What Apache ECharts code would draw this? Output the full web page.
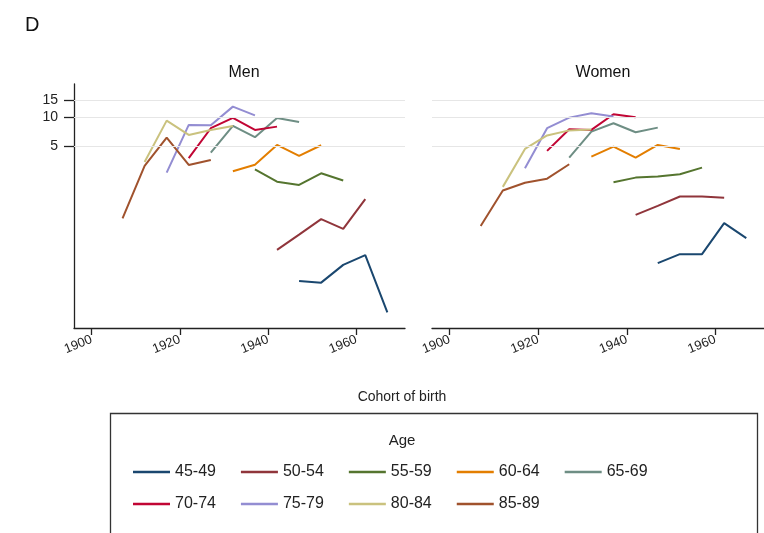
<!DOCTYPE html>
<html>
<head>
<meta charset="utf-8">
<script src="https://cdn.jsdelivr.net/npm/echarts@6/dist/echarts.min.js"></script>
<style>html,body{margin:0;padding:0;background:#fff;}#c{width:764px;height:533px;}</style>
</head>
<body>
<div id="c"></div>
<script>
// ---- data ----
const cohorts = [1907, 1912, 1917, 1922, 1927, 1932, 1937, 1942, 1947, 1952, 1957, 1962, 1967];
const ageGroups = ['45-49', '50-54', '55-59', '60-64', '65-69', '70-74', '75-79', '80-84', '85-89'];
const firstCohort = [1947, 1942, 1937, 1932, 1927, 1922, 1917, 1912, 1907];
const xTicks = [1900, 1920, 1940, 1960];
const yTicks = [5, 10, 15];

const men_45_49 = [0.198, 0.190, 0.291, 0.367, 0.093];
const men_50_54 = [0.417, 0.601, 0.871, 0.690, 1.41];
const men_55_59 = [2.88, 2.14, 1.98, 2.62, 2.20];
const men_60_64 = [2.75, 3.22, 5.17, 3.97, 5.13];
const men_65_69 = [4.30, 8.15, 6.22, 9.88, 8.98];
const men_70_74 = [3.76, 7.72, 9.88, 7.41, 8.02];
const men_75_79 = [2.66, 8.35, 8.30, 12.96, 10.5];
const men_80_84 = [3.44, 9.26, 6.57, 7.41, 8.15];
const men_85_89 = [0.89, 3.13, 6.16, 3.20, 3.60];

const women_45_49 = [0.303, 0.376, 0.376, 0.791, 0.552];
const women_50_54 = [0.964, 1.20, 1.50, 1.50, 1.46];
const women_55_59 = [2.11, 2.36, 2.42, 2.56, 3.00];
const women_60_64 = [3.91, 4.97, 3.81, 5.17, 4.70];
const women_65_69 = [3.81, 7.11, 8.70, 7.01, 7.83];
const women_70_74 = [4.48, 7.54, 7.41, 10.8, 10.05];
const women_75_79 = [2.96, 7.72, 9.95, 11.06, 10.2];
const women_80_84 = [1.89, 4.70, 6.49, 7.33, 7.50];
const women_85_89 = [0.741, 1.73, 2.09, 2.30, 3.25];

const menData = [men_45_49, men_50_54, men_55_59, men_60_64, men_65_69, men_70_74, men_75_79, men_80_84, men_85_89];
const womenData = [women_45_49, women_50_54, women_55_59, women_60_64, women_65_69, women_70_74, women_75_79, women_80_84, women_85_89];

// ---- styles ----
const colors = ['#1a476f', '#90353b', '#55752f', '#e37e00', '#6e8e84', '#c10534', '#938dd2', '#cac27e', '#a0522d'];
const FONT = '"Liberation Sans", Arial, Helvetica, sans-serif';

function pairs(vals, start) {
  const i0 = cohorts.indexOf(start);
  return vals.map((v, k) => [cohorts[i0 + k], v]);
}

const series = [];
[menData, womenData].forEach((set, gi) => {
  set.forEach((vals, i) => {
    series.push({
      name: ageGroups[i], type: 'line', xAxisIndex: gi, yAxisIndex: gi,
      data: pairs(vals, firstCohort[i]),
      showSymbol: false, symbol: 'none', silent: true, animation: false,
      lineStyle: { color: colors[i], width: 2 }, itemStyle: { color: colors[i] },
      z: 3
    });
  });
  series.push({
    type: 'line', xAxisIndex: gi, yAxisIndex: gi, data: [], silent: true, animation: false,
    markLine: {
      silent: true, symbol: 'none', animation: false,
      label: { show: false },
      lineStyle: { color: '#e6e6e6', width: 1.2, type: 'solid' },
      data: yTicks.map(v => ({ yAxis: v }))
    },
    z: 1
  });
});

function xAxis(gi) {
  return {
    type: 'value', gridIndex: gi, min: 1896, max: 1971,
    axisLine: { show: true, onZero: false, lineStyle: { color: '#222', width: 1.3 } },
    axisTick: { show: true, length: 7, customValues: xTicks, lineStyle: { color: '#222', width: 1.3 } },
    axisLabel: { customValues: xTicks, rotate: 22, margin: 11, fontSize: 13, color: '#222', fontFamily: FONT,
      formatter: v => String(Math.round(v)) },
    splitLine: { show: false }
  };
}
function yAxis(gi) {
  return {
    type: 'log', gridIndex: gi, min: 0.064, max: 22.3, logBase: 10,
    show: gi === 0,
    axisLine: { show: true, lineStyle: { color: '#222', width: 1.3 } },
    axisTick: { show: true, length: 10, customValues: yTicks, lineStyle: { color: '#222', width: 1.3 } },
    axisLabel: { customValues: yTicks, margin: 16, fontSize: 14, color: '#222', fontFamily: FONT,
      formatter: v => String(Math.round(v)) },
    splitLine: { show: false }, minorTick: { show: false }
  };
}

const legendCommon = {
  orient: 'horizontal', icon: 'rect', itemWidth: 37, itemHeight: 2.5, itemGap: 25,
  selectedMode: false,
  textStyle: { fontSize: 16, color: '#222', fontFamily: FONT }
};

const option = {
  backgroundColor: '#fff',
  animation: false,
  grid: [
    { left: 74, top: 84, width: 331, height: 244 },
    { left: 432, top: 84, width: 333, height: 244 }
  ],
  title: [
    { text: 'D', left: 20, top: 10, textStyle: { fontSize: 20, fontWeight: 'normal', color: '#111', fontFamily: FONT } },
    { text: 'Men', left: 239, top: 60, textAlign: 'center', textStyle: { fontSize: 16, fontWeight: 'normal', color: '#111', fontFamily: FONT } },
    { text: 'Women', left: 598, top: 60, textAlign: 'center', textStyle: { fontSize: 16, fontWeight: 'normal', color: '#111', fontFamily: FONT } },
    { text: 'Cohort of birth', left: 397, top: 385, textAlign: 'center', textStyle: { fontSize: 14, fontWeight: 'normal', color: '#222', fontFamily: FONT } },
    { text: 'Age', left: 397, top: 428, textAlign: 'center', textStyle: { fontSize: 15, fontWeight: 'normal', color: '#222', fontFamily: FONT } }
  ],
  xAxis: [xAxis(0), xAxis(1)],
  yAxis: [yAxis(0), yAxis(1)],
  legend: [
    Object.assign({}, legendCommon, { left: 128, top: 459, data: ageGroups.slice(0, 5) }),
    Object.assign({}, legendCommon, { left: 128, top: 491, data: ageGroups.slice(5) })
  ],
  graphic: [
    { type: 'rect', shape: { x: 110.5, y: 413.5, width: 647, height: 130 }, style: { fill: 'none', stroke: '#333', lineWidth: 1.3 }, silent: true }
  ],
  series: series
};

const chart = echarts.init(document.getElementById('c'), null, { renderer: 'canvas' });
chart.setOption(option);
</script>
</body>
</html>
